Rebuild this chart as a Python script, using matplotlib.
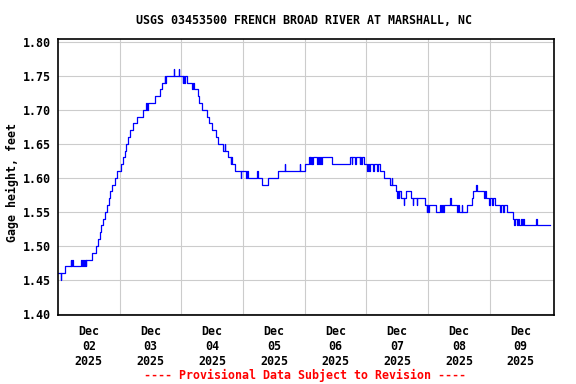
import matplotlib
matplotlib.use("Agg")
import matplotlib.pyplot as plt
from matplotlib.ticker import FixedLocator, NullFormatter

# === DATA (hours after 2025-12-02 00:00, gage height in feet, step changes) ===
step_hours = [
    0.0, 1.0, 1.25, 2.6, 4.9, 5.2, 5.5, 5.75, 9.0, 9.5, 9.75, 10.0, 10.5, 10.75, 11.0,
    13.3, 14.6, 15.4, 16.2, 16.9, 17.7, 18.4, 19.0, 19.7, 20.4, 21.2, 22.1, 23.0,
    24.4, 25.4, 26.0, 26.6, 27.4, 28.2, 29.2, 30.9, 33.1, 34.2, 34.5, 35.0, 37.8,
    39.6, 40.6, 41.6, 41.8, 42.1, 45.0, 45.25, 46.9, 47.15, 48.5, 48.75, 49.0, 49.25,
    50.3, 52.0, 52.5, 52.75, 54.3, 55.0, 55.9, 57.8, 58.7, 59.9, 61.3, 62.3, 64.3,
    64.8, 65.1, 66.0, 67.2, 67.5, 67.8, 68.8, 71.1, 71.35, 73.3, 73.55, 74.0, 77.4,
    77.65, 79.5, 81.8, 85.7, 88.2, 88.45, 94.1, 94.35, 96.0, 97.5, 98.0, 98.25,
    98.5, 98.75, 99.0, 99.25, 100.9, 101.15, 101.6, 101.85, 102.3, 102.55, 106.5,
    113.6, 114.3, 114.55, 115.6, 115.85, 117.4, 117.65, 117.9, 118.15, 119.1, 120.3,
    120.55, 121.1, 121.35, 122.6, 122.85, 124.2, 124.45, 125.3, 127.0, 129.0, 129.9,
    130.15, 131.6, 131.9, 132.15, 132.6, 132.85, 133.5, 134.5, 134.75, 135.5, 137.5,
    138.0, 138.25, 139.5, 139.75, 140.5, 142.9, 143.5, 143.75, 144.1, 144.35, 147.0,
    148.6, 149.2, 149.45, 149.8, 150.05, 152.5, 152.75, 155.2, 155.8, 156.05, 157.1,
    157.35, 159.0, 161.0, 161.6, 162.8, 163.05, 165.6, 166.2, 166.45, 167.9, 168.15,
    168.9, 169.15, 170.1, 172.0, 172.25, 173.1, 173.35, 174.7, 177.0, 177.5, 177.75,
    178.6, 178.85, 179.5, 180.2, 180.45, 180.9, 181.15, 181.8, 186.0, 186.25, 191.3,
]
step_vals = [
    1.46, 1.45, 1.46, 1.47, 1.48, 1.47, 1.48, 1.47, 1.48, 1.47, 1.48, 1.47, 1.48, 1.47, 1.48,
    1.49, 1.50, 1.51, 1.52, 1.53, 1.54, 1.55, 1.56, 1.57, 1.58, 1.59, 1.60, 1.61,
    1.62, 1.63, 1.64, 1.65, 1.66, 1.67, 1.68, 1.69, 1.70, 1.71, 1.70, 1.71, 1.72,
    1.73, 1.74, 1.75, 1.74, 1.75, 1.76, 1.75, 1.76, 1.75, 1.74, 1.75, 1.74, 1.75,
    1.74, 1.73, 1.74, 1.73, 1.72, 1.71, 1.70, 1.69, 1.68, 1.67, 1.66, 1.65, 1.64,
    1.65, 1.64, 1.63, 1.62, 1.63, 1.62, 1.61, 1.60, 1.61, 1.60, 1.61, 1.60, 1.61,
    1.60, 1.59, 1.60, 1.61, 1.62, 1.61, 1.62, 1.61, 1.62, 1.63, 1.62, 1.63,
    1.62, 1.63, 1.62, 1.63, 1.62, 1.63, 1.62, 1.63, 1.62, 1.63, 1.62,
    1.63, 1.62, 1.63, 1.62, 1.63, 1.62, 1.63, 1.62, 1.63, 1.62, 1.61,
    1.62, 1.61, 1.62, 1.61, 1.62, 1.61, 1.62, 1.61, 1.60, 1.59, 1.60,
    1.59, 1.58, 1.57, 1.58, 1.57, 1.58, 1.57, 1.56, 1.57, 1.58, 1.57,
    1.56, 1.57, 1.56, 1.57, 1.57, 1.56, 1.55, 1.56, 1.55, 1.56, 1.55,
    1.56, 1.55, 1.56, 1.55, 1.56, 1.57, 1.56, 1.55, 1.56, 1.55, 1.56,
    1.55, 1.56, 1.57, 1.58, 1.59, 1.58, 1.57, 1.58, 1.57, 1.56, 1.57,
    1.56, 1.57, 1.56, 1.55, 1.56, 1.55, 1.56, 1.55, 1.54, 1.53, 1.54,
    1.53, 1.54, 1.53, 1.54, 1.53, 1.54, 1.53, 1.53, 1.54, 1.53, 1.53,
]

day_labels = ["Dec\n02\n2025", "Dec\n03\n2025", "Dec\n04\n2025", "Dec\n05\n2025",
              "Dec\n06\n2025", "Dec\n07\n2025", "Dec\n08\n2025", "Dec\n09\n2025"]
y_ticks = [1.40, 1.45, 1.50, 1.55, 1.60, 1.65, 1.70, 1.75, 1.80]

TITLE = "USGS 03453500 FRENCH BROAD RIVER AT MARSHALL, NC"
FOOTER = "---- Provisional Data Subject to Revision ----"

# === PLOT ===
plt.rcParams["font.family"] = "DejaVu Sans Mono"
plt.rcParams["font.weight"] = "bold"
plt.rcParams["font.size"] = 8.4

fig = plt.figure(figsize=(5.76, 3.84), dpi=100)
ax = fig.add_axes([58 / 576, 1 - 315 / 384, 496 / 576, 276 / 384])

ax.step(step_hours, step_vals, where="post", color="#0000ff", lw=0.9)

ax.set_xlim(0, 193)
ax.set_ylim(1.3985, 1.804)

ax.xaxis.set_major_locator(FixedLocator([12 + 24 * i for i in range(len(day_labels))]))
ax.set_xticklabels(day_labels, fontweight="bold")
ax.xaxis.set_minor_locator(FixedLocator([24 * i for i in range(1, 8)]))
ax.xaxis.set_minor_formatter(NullFormatter())
ax.set_yticks(y_ticks)
ax.set_yticklabels([f"{v:.2f}" for v in y_ticks], fontweight="bold")

ax.grid(which="minor", axis="x", color="#cccccc", lw=0.8)
ax.grid(which="major", axis="y", color="#cccccc", lw=0.8)
ax.set_axisbelow(True)
ax.tick_params(which="both", length=0)
ax.tick_params(axis="y", pad=5)
ax.tick_params(axis="x", pad=7)
for s in ax.spines.values():
    s.set_linewidth(1.2)
    s.set_color("black")

fig.text(304.5 / 576, 1 - 20 / 384, TITLE, ha="center", va="center", fontweight="bold")
fig.text(12 / 576, 1 - 183 / 384, "Gage height, feet", rotation=90, ha="center", va="center",
         fontweight="bold")
fig.text(304.5 / 576, 1 - 375 / 384, FOOTER, ha="center", va="center", color="#ff0000",
         fontweight="bold")

fig.savefig("out.png", dpi=100)
